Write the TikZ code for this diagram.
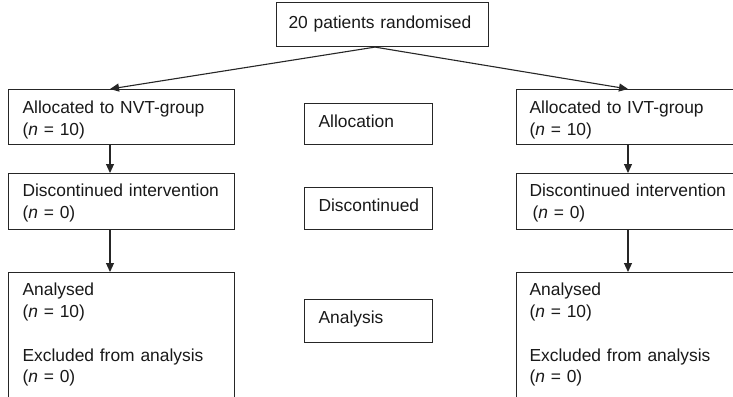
\documentclass[tikz,border=0pt]{standalone}
\usepackage{fontspec}
\setmainfont{Liberation Sans}
\usetikzlibrary{arrows.meta}
\newcommand\myboxfont{\fontsize{17.4}{21.8}\selectfont\hyphenpenalty=10000\relax\exhyphenpenalty=10000\relax}
\begin{document}
\begin{tikzpicture}[x=1pt,y=-1pt,
  box/.style={draw=black!85, line width=1.1pt, anchor=north west, inner ysep=0pt,
    align=left, text=black!90, font=\myboxfont},
  arr/.style={draw=black!85, line width=1.1pt, -{Triangle[length=9pt,width=8pt]}}]
\useasboundingbox (0,0) rectangle (733,396);
\clip (0,0) rectangle (733,396);
\fill[white] (0,0) rectangle (733,396);

% top
\node[box, inner xsep=12pt, text width=188pt, text height=26pt, text depth=18pt] (top) at (276,2) {20 patients randomised};

% left column
\node[box, inner xsep=14pt, text width=198pt, text height=24pt, text depth=31pt] (la) at (8,89) {Allocated to NVT-group\\({\itshape n} = 10)};
\node[box, inner xsep=14pt, text width=198pt, text height=23pt, text depth=33pt] (ld) at (8,173) {Discontinued intervention\\({\itshape n} = 0)};
\node[box, inner xsep=14pt, text width=198pt, text height=23pt, text depth=140pt] (lan) at (8,272) {Analysed\\({\itshape n} = 10)\\[22pt]Excluded from analysis\\({\itshape n} = 0)};

% middle column
\node[box, inner xsep=14pt, text width=100pt, text height=24pt, text depth=17pt] (ma) at (304,103) {Allocation};
\node[box, inner xsep=14pt, text width=100pt, text height=24pt, text depth=18pt] (md) at (304,187) {Discontinued};
\node[box, inner xsep=14pt, text width=100pt, text height=24pt, text depth=19pt] (man) at (304,299) {Analysis};

% right column
\node[box, inner xsep=13pt, text width=214pt, text height=24pt, text depth=31pt] (ra) at (516,89) {Allocated to IVT-group\\({\itshape n} = 10)};
\node[box, inner xsep=13pt, text width=214pt, text height=23pt, text depth=33pt] (rd) at (516,173) {Discontinued intervention\\\hspace*{3pt}({\itshape n} = 0)};
\node[box, inner xsep=13pt, text width=214pt, text height=23pt, text depth=140pt] (ran) at (516,272) {Analysed\\({\itshape n} = 10)\\[22pt]Excluded from analysis\\({\itshape n} = 0)};

% connectors
\coordinate (sx) at (375,0);
\coordinate (xl) at (110,0);
\coordinate (xr) at (628,0);
\draw[arr] (top.south -| sx) -- (la.north -| xl);
\draw[arr] (top.south -| sx) -- (ra.north -| xr);
\draw[arr] (la.south -| xl) -- (ld.north -| xl);
\draw[arr] (ld.south -| xl) -- (lan.north -| xl);
\draw[arr] (ra.south -| xr) -- (rd.north -| xr);
\draw[arr] (rd.south -| xr) -- (ran.north -| xr);
\end{tikzpicture}
\end{document}
